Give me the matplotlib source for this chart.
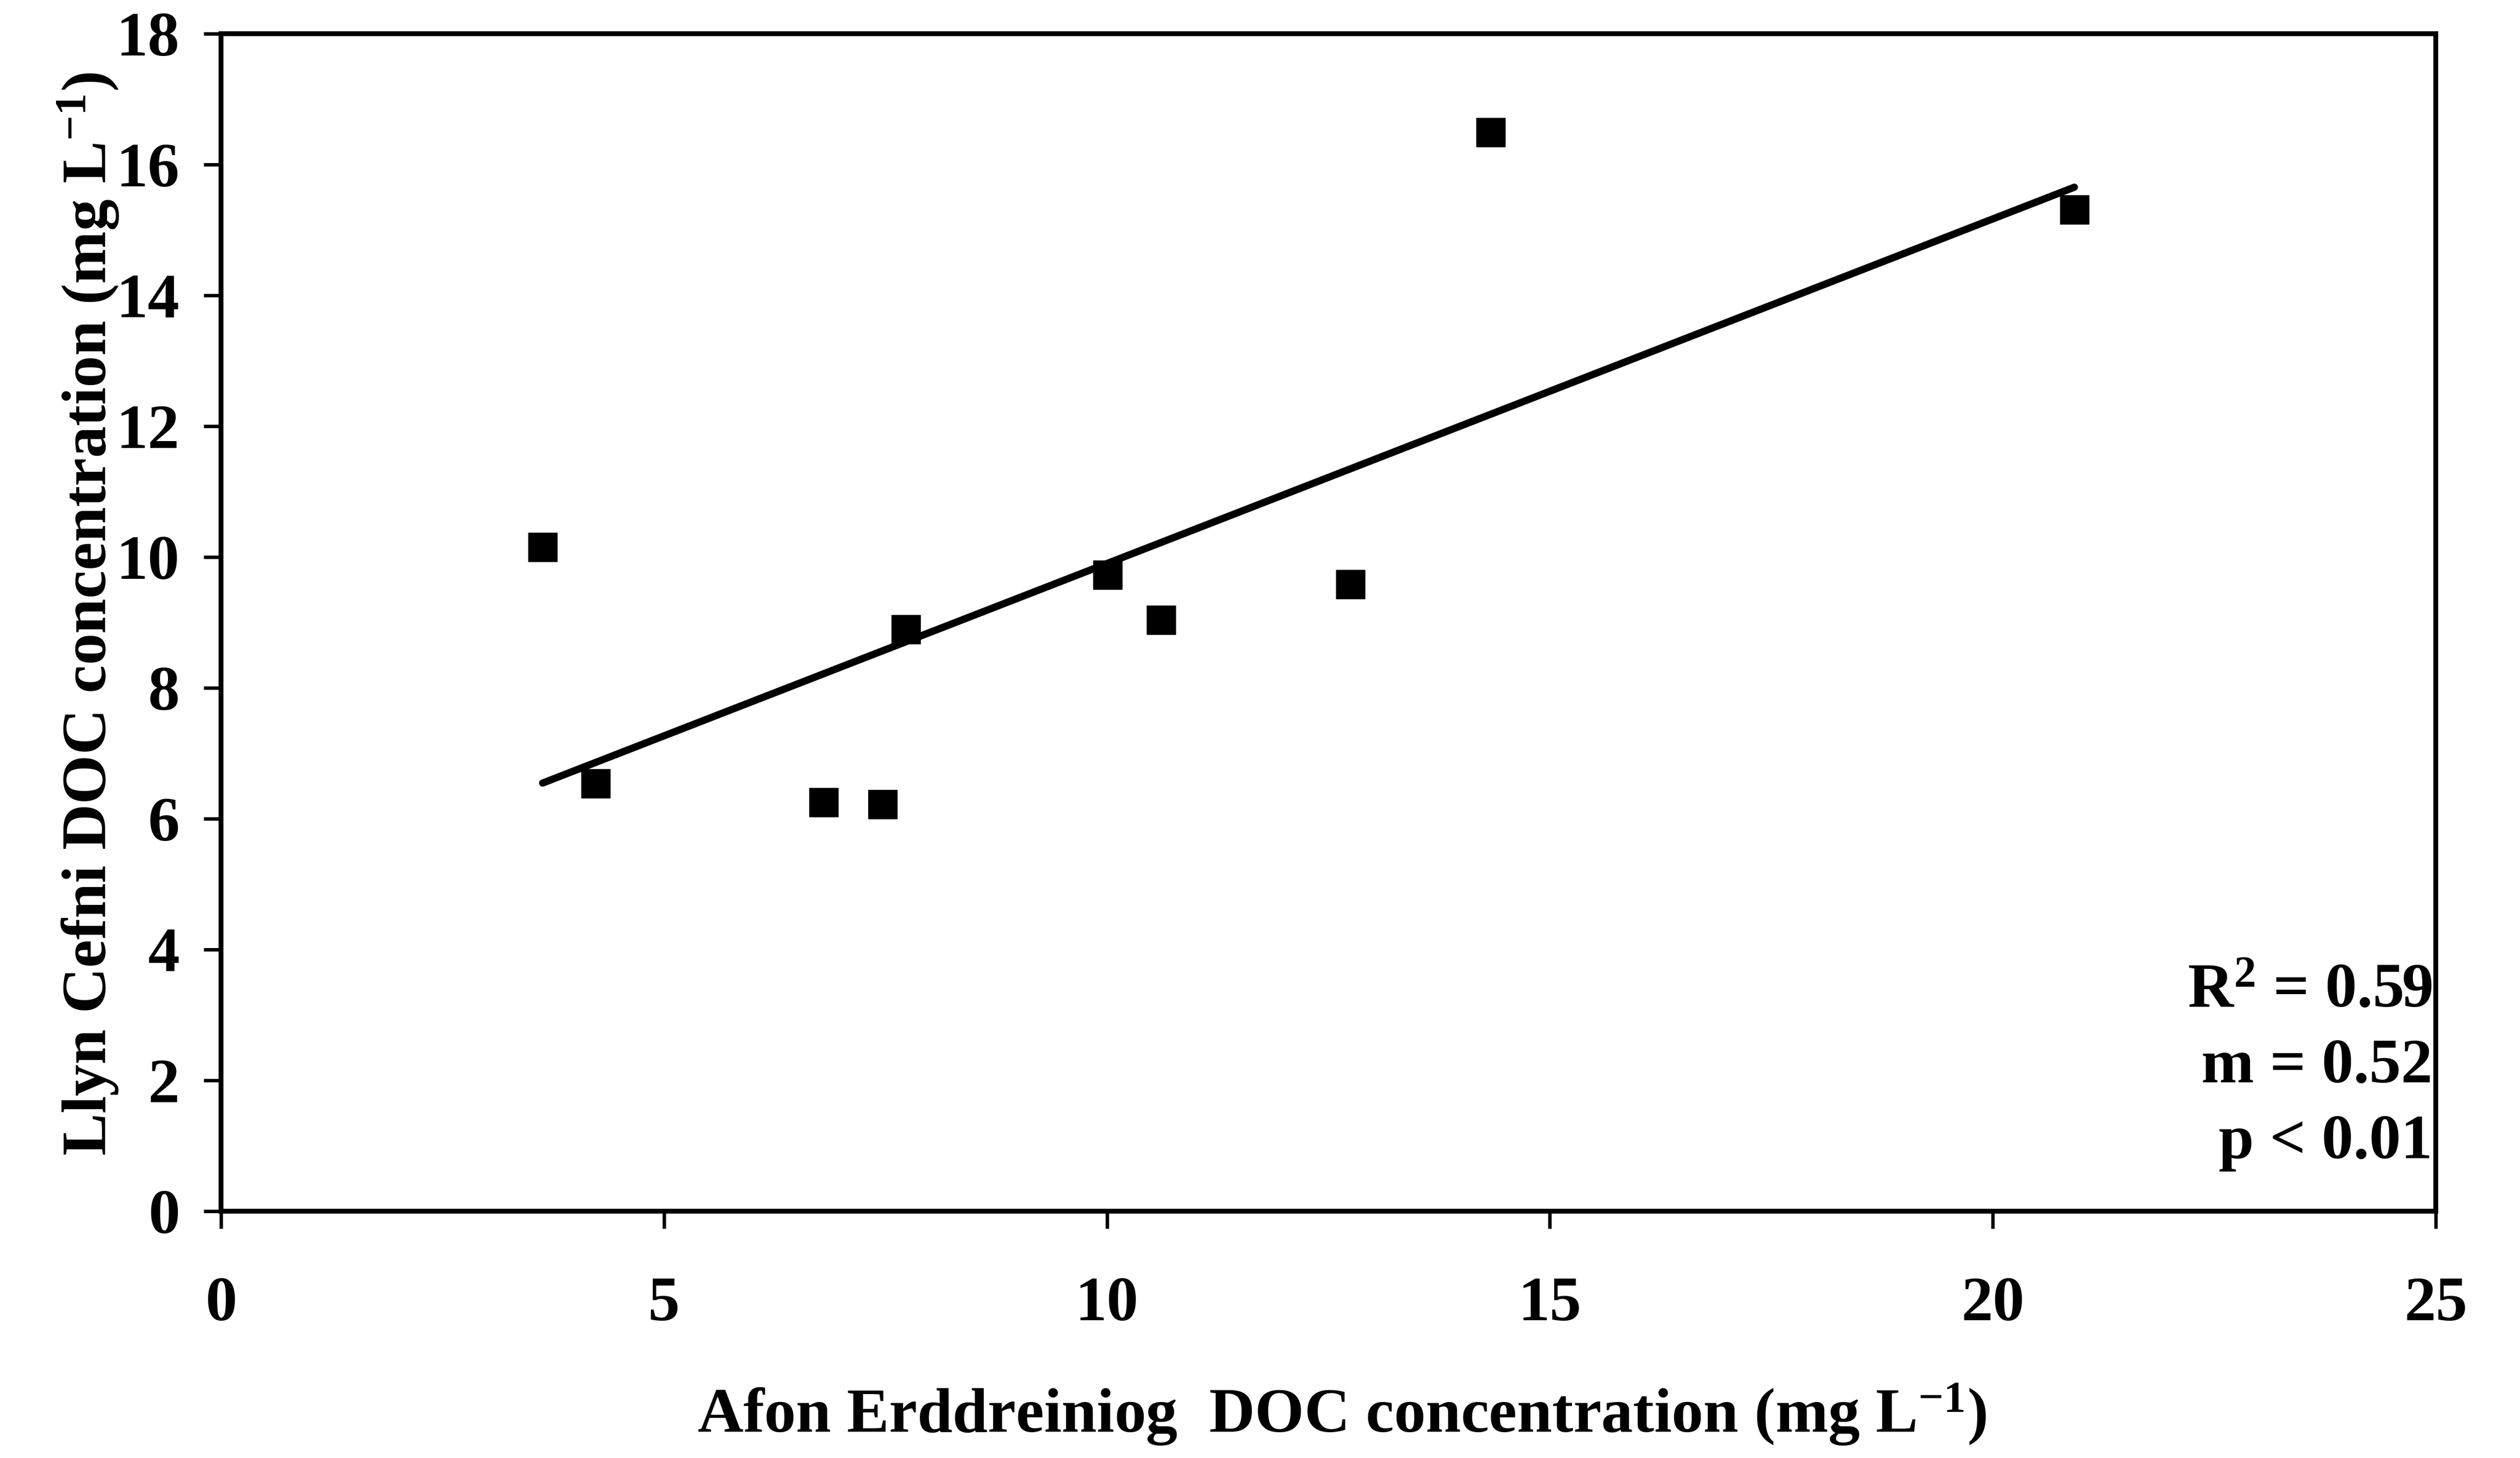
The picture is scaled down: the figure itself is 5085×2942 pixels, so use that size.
import numpy as np
import matplotlib.pyplot as plt

# Paired DOC concentrations (mg L-1)
erddreiniog_doc = [3.63, 4.23, 6.80, 7.47, 7.73, 10.01, 10.61, 12.75, 14.33, 20.92]
cefni_doc = [10.15, 6.54, 6.25, 6.22, 8.89, 9.73, 9.04, 9.58, 16.49, 15.31]

x_ticks = [0, 5, 10, 15, 20, 25]
y_ticks = [0, 2, 4, 6, 8, 10, 12, 14, 16, 18]

stats_text = ["R$^{2}$ = 0.59", "m = 0.52", "p < 0.01"]

plt.rcParams["font.family"] = "Liberation Serif"
plt.rcParams["font.weight"] = "bold"
plt.rcParams["axes.labelweight"] = "bold"
plt.rcParams["mathtext.fontset"] = "custom"
plt.rcParams["mathtext.rm"] = "Liberation Serif:bold"
plt.rcParams["mathtext.it"] = "Liberation Serif:bold"
plt.rcParams["mathtext.bf"] = "Liberation Serif:bold"

fig = plt.figure(figsize=(50.85, 29.42), dpi=100)
ax = fig.add_axes([0.0877, 0.1693, 0.8789, 0.8076])

ax.plot(erddreiniog_doc, cefni_doc, linestyle="none", marker="s",
        markersize=42, color="black", zorder=3)

# least squares fit between the smallest and largest x
slope, intercept = np.polyfit(erddreiniog_doc, cefni_doc, 1)
fit_x = np.array([min(erddreiniog_doc), max(erddreiniog_doc)])
ax.plot(fit_x, slope * fit_x + intercept, color="black", linewidth=10.5,
        solid_capstyle="round", zorder=2)

ax.set_xlim(0, 25)
ax.set_ylim(0, 18)
ax.set_xticks(x_ticks)
ax.set_yticks(y_ticks)

for side in ax.spines.values():
    side.set_linewidth(7)
    side.set_color("black")

ax.tick_params(axis="both", direction="out", length=25, width=5,
               labelsize=92, colors="black")
ax.tick_params(axis="x", pad=70)
ax.tick_params(axis="y", pad=35)

ax.set_xlabel("Afon Erddreiniog  DOC concentration (mg L$^{-1}$)",
              fontsize=92, fontweight="bold", va="center")
ax.xaxis.set_label_coords(0.506, -0.1726)
ax.set_ylabel("Llyn Cefni DOC concentration (mg L$^{-1}$)",
              fontsize=92, fontweight="bold", va="center")
ax.yaxis.set_label_coords(-0.060, 0.507)

for txt, ypos in zip(stats_text, [0.1734, 0.1094, 0.0450]):
    ax.text(0.9985, ypos, txt, transform=ax.transAxes, ha="right",
            va="baseline", fontsize=92, fontweight="bold")

fig.savefig("out.png", dpi=100, facecolor="white")
